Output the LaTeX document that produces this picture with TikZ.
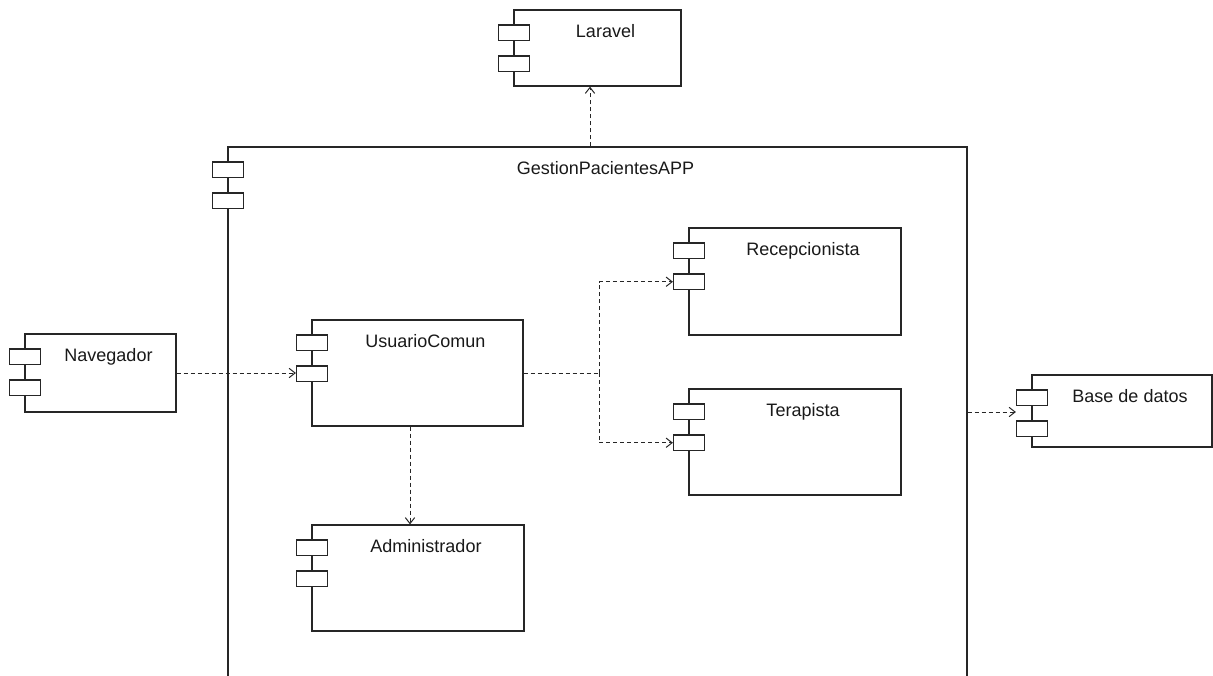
\documentclass[tikz,border=0pt]{standalone}
\usepackage{fontspec}
\setmainfont{Liberation Sans}
\usetikzlibrary{arrows.meta,fit}

\tikzset{
  compbody/.style={draw=black!85, line width=0.9pt, inner sep=0pt, fill=white},
  compport/.style={draw=black!85, line width=0.9pt, inner sep=0pt, fill=white},
  complabel/.style={font=\fontsize{13.5pt}{16pt}\selectfont, text=black!90, inner sep=0pt, anchor=base},
  dep/.style={draw=black!85, line width=0.75pt, dash pattern=on 3pt off 2.25pt,
              -{Straight Barb[length=4.5pt,width=7pt]}},
  deplink/.style={draw=black!85, line width=0.75pt, dash pattern=on 3pt off 2.25pt},
}

% UML component: name, left x, top y, right x, bottom y, title
\newcommand\umlcomp[6]{%
  \node[compbody, fit={(#2,#3) (#4,#5)}] (#1) {};
  \node[compport, fit={(#2-15.5,#3+15) (#2+15.5,#3+30.5)}] (#1-p1) {};
  \node[compport, fit={(#2-15.5,#3+46) (#2+15.5,#3+61.5)}] (#1-p2) {};
  \node[complabel] (#1-l) at ({(#2+#4)/2+8},#3+27) {#6};
}

\begin{document}
\begin{tikzpicture}[x=0.75pt, y=-0.75pt]
  \useasboundingbox (0,0) rectangle (1213,675);
  \clip (0,0) rectangle (1213,675);

  % outer application component (runs past the lower edge)
  \umlcomp{app}{228}{147}{967}{720}{GestionPacientesAPP}

  % components
  \umlcomp{lar}{514}{10}{681}{86}{Laravel}
  \umlcomp{nav}{25}{334}{176}{412}{Navegador}
  \umlcomp{usr}{312}{320}{523}{426}{UsuarioComun}
  \umlcomp{adm}{312}{525}{524}{631}{Administrador}
  \umlcomp{rec}{689}{228}{901}{335}{Recepcionista}
  \umlcomp{ter}{689}{389}{901}{495}{Terapista}
  \umlcomp{db}{1032}{375}{1212}{447}{Base de datos}

  % helper coordinates for connector routes
  \coordinate (larx) at (590,0);
  \coordinate (admx) at (410,0);
  \coordinate (dby) at (0,412);
  \coordinate (split) at (599,373);

  % dependencies
  \draw[dep] (app.north -| larx) -- (lar.south -| larx);
  \draw[dep] (nav.east) -- (usr-p2.west |- nav.east);
  \draw[dep] (usr.south -| admx) -- (adm.north -| admx);
  \draw[deplink] (usr.east |- split) -- (split);
  \draw[dep] (split) |- (rec-p2.west);
  \draw[dep] (split) |- (ter-p2.west);
  \draw[dep] (app.east |- dby) -- (db-p1.west |- dby);
\end{tikzpicture}
\end{document}
